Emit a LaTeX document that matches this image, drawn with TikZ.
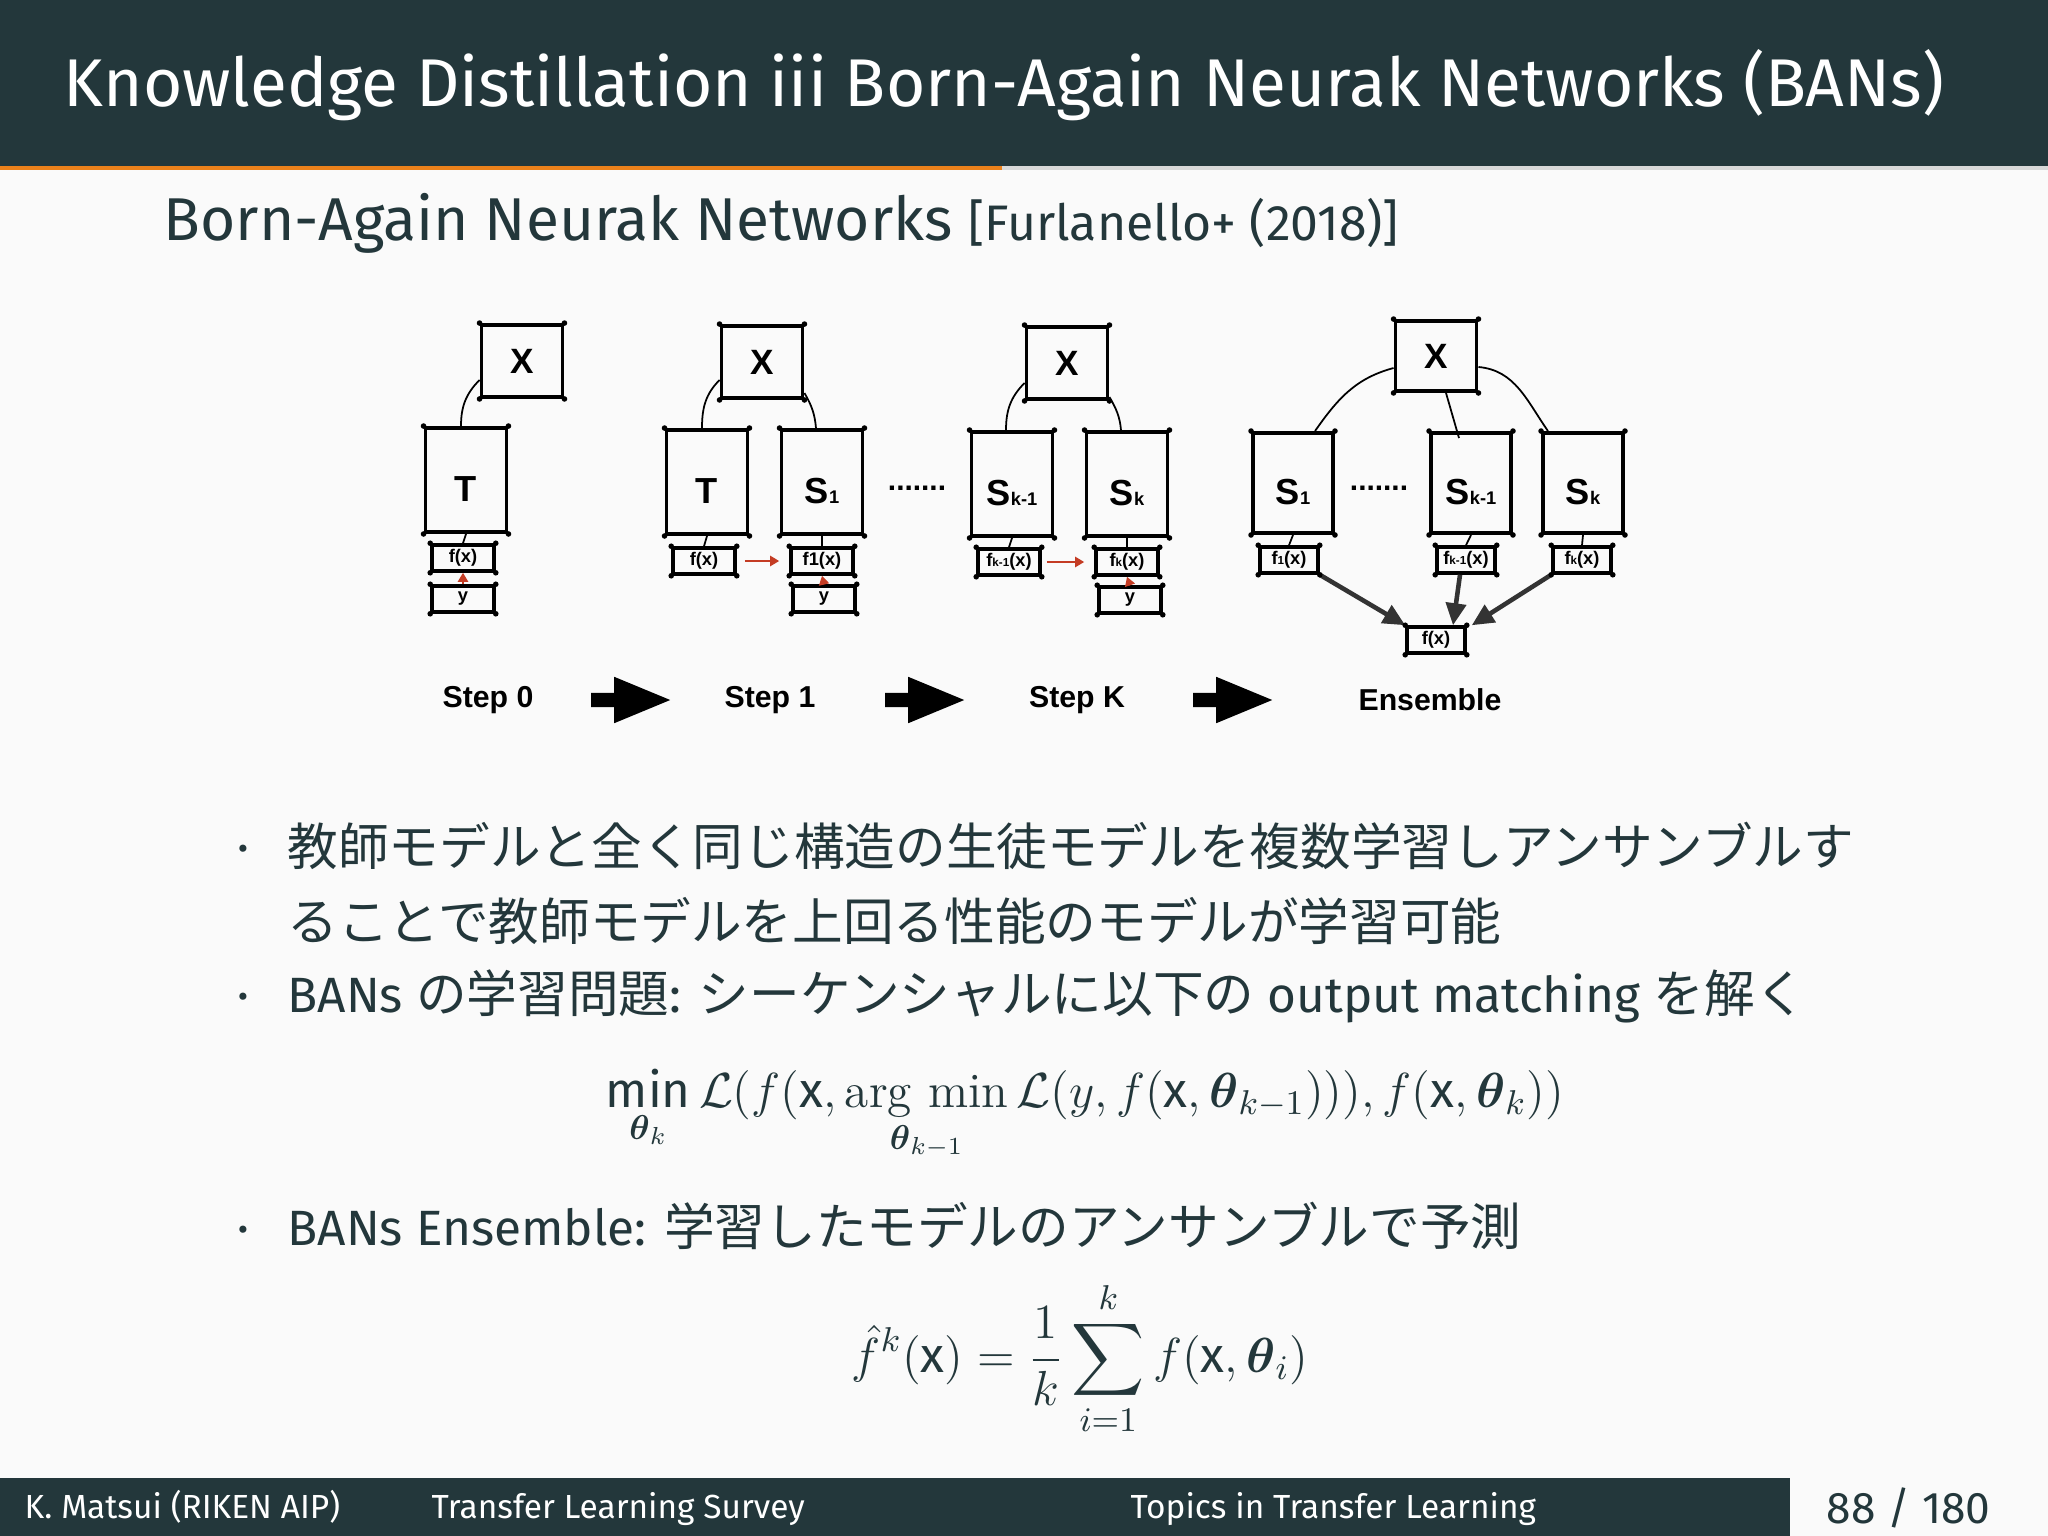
\RequirePackage{fix-cm}
\documentclass[tikz,border=0pt]{standalone}
\usepackage{amsmath}
\usepackage{fontspec}
\setmainfont{Fira Sans}
\newfontfamily\jpfont{Noto Sans CJK JP}
\newfontfamily\helv{Liberation Sans}
\usetikzlibrary{arrows.meta,shapes.arrows,positioning}
\definecolor{mdark}{HTML}{23373B}
\definecolor{morange}{HTML}{EB811B}
\definecolor{mbar}{HTML}{D8D8D8}
\definecolor{mbg}{HTML}{FAFAFA}
\definecolor{redarrow}{HTML}{C43C24}
\newcommand\fsz[1]{\fontsize{#1}{#1}\selectfont}
\newcommand\jp[1]{{\jpfont\fsz{14.4}#1}}
\newcommand\bsub[1]{{\fsz{5.2}#1}}
\newcommand\ssub[1]{{\fsz{3.3}#1}}

\begin{document}
\begin{tikzpicture}[x=0.01cm,y=0.01cm,
  bigbox/.style={draw,line width=1.1pt,minimum width=0.81cm,minimum height=1.04cm,inner sep=0pt,text height=0.42cm,text depth=0pt,font=\helv\bfseries\fsz{10.3}},
  xbox/.style={draw,line width=1.1pt,minimum width=0.81cm,minimum height=0.72cm,inner sep=0pt,font=\helv\bfseries\fsz{10}},
  outbox/.style={draw,line width=1pt,minimum width=0.62cm,minimum height=0.26cm,inner sep=0pt,font=\helv\bfseries\fsz{5.2}},
  link/.style={line width=0.5pt},
  redarr/.style={-{Triangle[length=0.09cm,width=0.1cm]},line width=0.8pt,redarrow},
  ensarr/.style={-{Triangle[length=0.22cm,width=0.2cm]},line width=1.3pt,black!80},
  stepcap/.style={font=\helv\bfseries\fsz{8.6}},
  bigarrow/.style={single arrow,fill=black,draw=none,minimum height=0.79cm,inner sep=0.065cm,single arrow head extend=0.16cm,single arrow tip angle=45},
  dotrow/.style={font=\helv\bfseries\fsz{8.5}},
  body/.style={anchor=base west,inner sep=0pt,text=mdark,font=\fsz{14.1}},
  plain/.style={anchor=base west,inner sep=0pt},
  bul/.style={text=mdark,font=\fsz{9}},
]
\useasboundingbox (0,0) rectangle (2048,-1536);
\fill[mbg] (0,0) rectangle (2048,-1536);

% HEADER
\fill[mdark] (0,0) rectangle (2048,-166);
\fill[morange] (0,-166) rectangle (1002,-170);
\fill[mbar] (1002,-166) rectangle (2048,-170);
\node[plain,text=white,font=\fsz{19.2}] (title) at (63,-106) {Knowledge Distillation iii Born-Again Neurak Networks (BANs)};
\node[plain,text=mdark,font=\fsz{17.2}] (subtitle) at (163,-240) {Born-Again Neurak Networks {\fsz{14.2}[Furlanello+ (2018)]}};

% STEP 0
\node[xbox] (x0) at (522,-361) {X};
\node[bigbox] (t0) at (466,-480) {T};
\node[outbox] (fx0) at (463,-558) {f(x)};
\node[outbox] (y0) at (463,-599) {y};
\node[stepcap] (c0) at (488,-700) {Step 0};

% STEP 1
\node[xbox] (x1) at (762,-362) {X};
\node[bigbox] (t1) at (707,-482) {T};
\node[bigbox] (s1) at (822,-482) {S\bsub{1}};
\node[outbox] (fxt1) at (704,-561) {f(x)};
\node[outbox] (fxs1) at (822,-561) {f1(x)};
\node[outbox] (y1) at (824,-599) {y};
\node[stepcap] (c1) at (770,-700) {Step 1};
\node[dotrow] (d1) at (917,-488) {.......};

% STEP K
\node[xbox] (xk) at (1067,-363) {X};
\node[bigbox] (sk1) at (1012,-484) {S\bsub{k-1}};
\node[bigbox] (sk) at (1127,-484) {S\bsub{k}};
\node[outbox] (fxk1) at (1009,-562) {f\ssub{k-1}(x)};
\node[outbox] (fxk) at (1127,-562) {f\ssub{k}(x)};
\node[outbox] (yk) at (1130,-600) {y};
\node[stepcap] (ck) at (1077,-700) {Step K};

% ENSEMBLE
\node[xbox,minimum height=0.7cm] (xe) at (1436,-356) {X};
\node[bigbox,minimum height=1.0cm,minimum width=0.8cm] (se1) at (1293,-483) {S\bsub{1}};
\node[bigbox,minimum height=1.0cm,minimum width=0.8cm] (sek1) at (1471,-483) {S\bsub{k-1}};
\node[bigbox,minimum height=1.0cm,minimum width=0.8cm] (sek) at (1583,-483) {S\bsub{k}};
\node[outbox,minimum width=0.58cm] (fxe1) at (1289,-560) {f\ssub{1}(x)};
\node[outbox,minimum width=0.58cm] (fxek1) at (1466,-560) {f\ssub{k-1}(x)};
\node[outbox,minimum width=0.58cm] (fxek) at (1582,-560) {f\ssub{k}(x)};
\node[outbox,minimum width=0.58cm] (fxe) at (1436,-640) {f(x)};
\node[dotrow] (d2) at (1379,-488) {.......};
\node[stepcap] (ce) at (1430,-700) {Ensemble};

% BIG ARROWS
\node[bigarrow] (a1) at (622,-700) {};
\node[bigarrow] (a2) at (916,-700) {};
\node[bigarrow] (a3) at (1224,-700) {};

% EDGES
\draw[link] ([yshift=-0.19cm]x0.west) to[out=225,in=90] ([xshift=-0.05cm]t0.north);
\draw[link] ([yshift=-0.18cm]x1.west) to[out=225,in=90] ([xshift=-0.05cm]t1.north);
\draw[link] ([yshift=-0.31cm]x1.east) to[out=-60,in=95] ([xshift=-0.06cm]s1.north);
\draw[link] ([yshift=-0.2cm]xk.west) to[out=225,in=90] ([xshift=-0.06cm]sk1.north);
\draw[link] ([yshift=-0.34cm]xk.east) to[out=-60,in=95] ([xshift=-0.06cm]sk.north);
\draw[link] ([yshift=-0.12cm]xe.west) to[out=195,in=55] ([xshift=0.22cm]se1.north);
\draw[link] ([xshift=0.1cm]xe.south) -- ([xshift=-0.12cm,yshift=-0.07cm]sek1.north);
\draw[link] ([yshift=-0.11cm]xe.east) to[out=-5,in=125] ([xshift=-0.35cm]sek.north);
\foreach \s/\f in {t0/fx0,t1/fxt1,s1/fxs1,sk1/fxk1,sk/fxk,se1/fxe1,sek1/fxek1,sek/fxek}
  \draw[link] (\s.south) -- (\f.north);
\draw[redarr] (y0.north) -- (fx0.south);
\draw[redarr] (y1.north) -- (fxs1.south);
\draw[redarr] (yk.north) -- (fxk.south);
\draw[redarr,shorten <=0.08cm,shorten >=0.1cm] (fxt1.east) -- (fxs1.west);
\draw[redarr,shorten <=0.05cm,shorten >=0.1cm] (fxk1.east) -- (fxk.west);
\draw[ensarr] (fxe1.south east) -- (fxe.north west);
\draw[ensarr] ([xshift=-0.06cm]fxek1.south) -- ([xshift=0.17cm]fxe.north);
\draw[ensarr] (fxek.south west) -- ([xshift=0.05cm]fxe.north east);
\foreach \n in {x0,t0,fx0,y0,x1,t1,s1,fxt1,fxs1,y1,xk,sk1,sk,fxk1,fxk,yk,xe,se1,sek1,sek,fxe1,fxek1,fxek,fxe}
  \foreach \c in {north west,north east,south west,south east}
    \fill (\n.\c) circle (0.028cm);

% BODY TEXT
\node[bul] (b1) at (243,-852) {•};
\node[body] (l1) at (287,-865) {\jp{教師モデルと全く同じ構造の生徒モデルを複数学習しアンサンブルす}};
\node[body] (l2) at (287,-940) {\jp{ることで教師モデルを上回る性能のモデルが学習可能}};
\node[bul] (b2) at (243,-1000) {•};
\node[body] (l3) at (287,-1012) {BANs \jp{の学習問題}: \jp{シーケンシャルに以下の} output matching \jp{を解く}};
\node[anchor=base,text=mdark,font=\fsz{14}] (eq1) at (1085,-1107) {$\displaystyle \min_{\boldsymbol{\theta}_k} \mathcal{L}(f(\text{x}, \mathop{\text{\fontfamily{lmr}\selectfont arg min}}\limits_{\boldsymbol{\theta}_{k-1}} \mathcal{L}(y, f(\text{x}, \boldsymbol{\theta}_{k-1}))), f(\text{x}, \boldsymbol{\theta}_k))$};
\node[bul] (b3) at (243,-1233) {•};
\node[body] (l4) at (287,-1245) {BANs Ensemble: \jp{学習したモデルのアンサンブルで予測}};
\node[anchor=base,text=mdark,font=\fsz{14}] (eq2) at (1080,-1372) {$\displaystyle \hat{f}^{k}(\text{x}) = \frac{1}{k}\sum_{i=1}^{k} f(\text{x}, \boldsymbol{\theta}_i)$};

% FOOTER
\fill[mdark] (0,-1478) rectangle (1790,-1536);
\node[plain,text=white,font=\fsz{9.5}] (auth) at (24,-1518) {K. Matsui (RIKEN AIP)};
\node[plain,text=white,font=\fsz{9.5}] (talk) at (431,-1518) {Transfer Learning Survey};
\node[plain,text=white,font=\fsz{9.5}] (sect) at (1130,-1518) {Topics in Transfer Learning};
\node[plain,text=mdark,font=\fsz{12.6}] (page) at (1826,-1523) {88 / 180};
\end{tikzpicture}
\end{document}
